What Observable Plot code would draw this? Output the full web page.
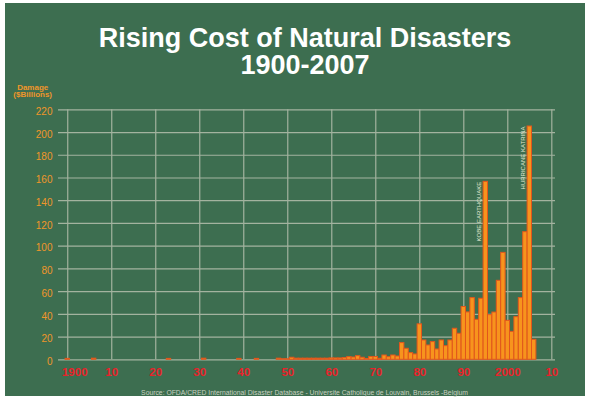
<!DOCTYPE html>
<html><head><meta charset="utf-8">
<script src="https://cdn.jsdelivr.net/npm/d3@7"></script>
<script src="https://cdn.jsdelivr.net/npm/@observablehq/plot@0.6"></script>
<style>
body{margin:0;background:#fff;}
#wrap{position:relative;width:593px;height:401px;overflow:hidden;font-family:"Liberation Sans",Arial,sans-serif;}
#panel{position:absolute;left:5px;top:3px;width:580px;height:393px;background:#3d6e50;}
#title{position:absolute;left:0;top:25.2px;width:610px;text-align:center;color:#fff;font-weight:bold;font-size:27px;line-height:27px;}
#ylab{position:absolute;left:0;top:83.7px;width:65.4px;text-align:center;color:#f0962a;font-weight:bold;font-size:8px;line-height:7.5px;}
#source{position:absolute;left:0;top:389px;width:609px;text-align:center;color:#c9d0c0;font-size:6.8px;line-height:7px;white-space:nowrap;}
#chart{position:absolute;left:0;top:0;}
</style>
</head><body>
<div id="wrap">
  <div id="panel"></div>
  <div id="chart"></div>
  <div id="title">Rising Cost of Natural Disasters<br>1900-2007</div>
  <div id="ylab">Damage<br>($Billions)</div>
  <div id="source">Source: OFDA/CRED International Disaster Database - Universite Catholique de Louvain, Brussels -Belgium</div>
</div>
<script>
const years = [1900,1906,1923,1931,1939,1943,1948,1949,1950,1951,1952,1953,1954,1955,1956,1957,1958,1959,
  1960,1961,1962,1963,1964,1965,1966,1967,1968,1969,1970,1971,1972,1973,1974,1975,1976,1977,1978,1979,
  1980,1981,1982,1983,1984,1985,1986,1987,1988,1989,1990,1991,1992,1993,1994,1995,1996,1997,1998,1999,
  2000,2001,2002,2003,2004,2005,2006];
const damage = [0.8,1.0,0.8,1.0,0.8,0.8,1.0,0.5,0.5,1.8,1.0,1.0,1.0,1.0,1.0,1.0,1.0,1.0,
  1.2,1.2,1.2,1.5,2.3,2.0,3.2,1.8,0.7,2.5,2.5,0.9,3.8,2.3,3.8,2.9,14.7,9.7,5.9,4.7,
  31.2,17.0,12.6,15.6,9.1,17.0,12.0,17.0,27.3,22.9,46.5,41.7,54.3,35.2,53.7,156.6,39.3,41.6,69.5,94.1,
  34.3,24.6,37.5,54.3,112.3,205.3,17.6];
const yTicks = [0,20,40,60,80,100,120,140,160,180,200,220];
const xTicks = [1900,1910,1920,1930,1940,1950,1960,1970,1980,1990,2000,2010];
const xTickLabels = ["1900","10","20","30","40","50","60","70","80","90","2000","10"];
const eventYears = [1995,2005];
const eventLabels = ["KOBE EARTHQUAKE","HURRICANE KATRINA"];

const data = years.map((y,i)=>({year:y, value:damage[i]}));
const events = eventYears.map((y,i)=>({year:y, value:damage[years.indexOf(y)], label:eventLabels[i]}));
const xLab = xTicks.map((t,i)=>({year:t, label:xTickLabels[i]}));

const grid = "#a3b39f";
const chart = Plot.plot({
  width:593, height:401,
  marginTop:109.3, marginBottom:41.7, marginLeft:58, marginRight:38,
  style:{background:"transparent", fontFamily:"Liberation Sans, Arial, sans-serif", overflow:"visible"},
  x:{domain:[1897.9,2010.84], axis:null},
  y:{domain:[0,220], axis:null},
  marks:[
    Plot.gridY(yTicks,{stroke:grid, strokeOpacity:1, strokeWidth:1.2}),
    Plot.gridX(xTicks,{stroke:grid, strokeOpacity:1, strokeWidth:1.2}),
    Plot.rectY(data,{x1:d=>d.year-0.5, x2:d=>d.year+0.5, y:"value", fill:"#f7941d", stroke:"#e2561c", strokeWidth:1}),
    Plot.axisY(yTicks,{label:null, tickSize:0, tickPadding:6, fill:"#f0962a", fontSize:10, dy:2, tickFormat:d=>String(d)}),
    Plot.text(xLab.filter(d=>d.year!==1900),{x:"year", text:"label", frameAnchor:"bottom", dy:16, fill:"#e8232a", fontWeight:"bold", fontSize:11.5}),
    Plot.text(xLab.filter(d=>d.year===1900),{x:"year", text:"label", frameAnchor:"bottom", dy:16, dx:7, fill:"#e8232a", fontWeight:"bold", fontSize:11.5}),
    Plot.text(events,{x:"year", y:"value", text:"label", rotate:-90, textAnchor:"end", dx:-6.5, fontSize:6, fill:"#e3ead3"})
  ]
});
document.getElementById("chart").appendChild(chart);
</script>
</body></html>
